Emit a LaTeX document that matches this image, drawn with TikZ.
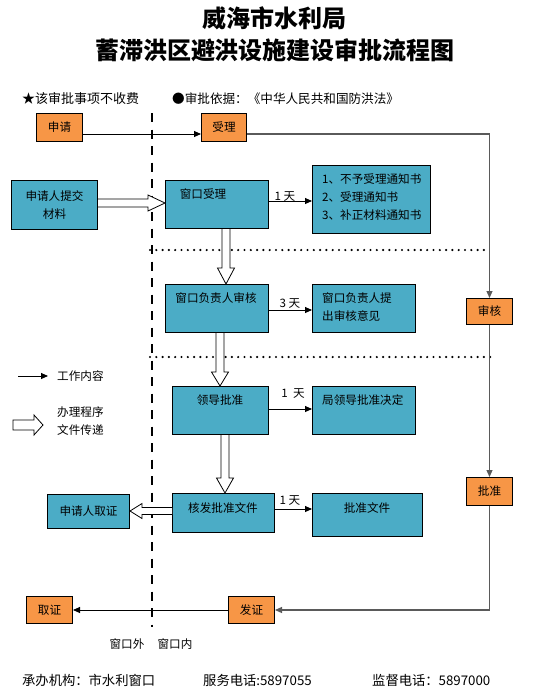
\documentclass[tikz,border=0pt]{standalone}
\usepackage{fontspec}
\setmainfont{Noto Sans CJK SC}
\usetikzlibrary{arrows.meta,calc}
\definecolor{myblue}{RGB}{75,172,198}
\definecolor{myorange}{RGB}{247,150,70}
\definecolor{linegray}{RGB}{90,90,90}
% hollow (document-transfer) arrows between named nodes
\newcommand\hdown[4]{\draw[hollow] let \p1=(#1.south), \p2=(#2.north) in (#3pt-4pt,\y1) -- (#3pt-4pt,\y2+#4pt) -- (#3pt-8.5pt,\y2+#4pt) -- (#3pt,\y2) -- (#3pt+8.5pt,\y2+#4pt) -- (#3pt+4pt,\y2+#4pt) -- (#3pt+4pt,\y1);}
\newcommand\hright[4]{\draw[hollow] let \p1=(#1.east), \p2=(#2.west) in (\x1,-#3pt+4pt) -- (\x2-#4pt,-#3pt+4pt) -- (\x2-#4pt,-#3pt+8pt) -- (\x2,-#3pt) -- (\x2-#4pt,-#3pt-8pt) -- (\x2-#4pt,-#3pt-4pt) -- (\x1,-#3pt-4pt);}
\newcommand\hleft[4]{\draw[hollow] let \p1=(#1.west), \p2=(#2.east) in (\x1,-#3pt+3.5pt) -- (\x2+#4pt,-#3pt+3.5pt) -- (\x2+#4pt,-#3pt+7.5pt) -- (\x2,-#3pt) -- (\x2+#4pt,-#3pt-7.5pt) -- (\x2+#4pt,-#3pt-3.5pt) -- (\x1,-#3pt-3.5pt);}
\begin{document}
\begin{tikzpicture}[x=1pt,y=-1pt,
  font=\fontsize{11.6}{18}\selectfont,
  obox/.style={draw, line width=1pt, fill=myorange, inner sep=0, anchor=north west},
  bbox/.style={draw, line width=1pt, fill=myblue, inner sep=0, anchor=north west},
  tarrow/.style={-{Triangle[length=7pt,width=6pt]}, line width=0.9pt},
  garrow/.style={draw=linegray, -{Triangle[length=7pt,width=6pt]}, line width=1.2pt},
  hollow/.style={draw, line width=0.8pt, fill=white, line join=miter},
  dotline/.style={line width=2.4pt, line cap=round, dash pattern=on 0pt off 6.3pt},
  txt/.style={inner sep=0},
  ltxt/.style={inner sep=0, anchor=west}]
\useasboundingbox (0,0) rectangle (534,694);
\fill[white] (0,0) rectangle (534,694);

% title
\node[txt, font=\fontsize{24}{28}\selectfont\bfseries] (t1) at (274,18) {威海市水利局};
\node[txt, font=\fontsize{24}{28}\selectfont\bfseries] (t2) at (275,50) {蓄滞洪区避洪设施建设审批流程图};

% header notes
\node[ltxt, font=\fontsize{13}{16}\selectfont] (n1) at (22,99) {★该审批事项不收费};
\node[ltxt, font=\fontsize{12.6}{16}\selectfont] (n2) at (172,99) {●审批依据：《中华人民共和国防洪法》};

% divider lines
\coordinate (dv1) at (152,113);
\coordinate (dv2) at (152,627);
\draw[line width=2pt, dash pattern=on 9pt off 7.5pt] (dv1) -- (dv2);
\coordinate (do1) at (150,250);
\coordinate (do2) at (490,250);
\coordinate (do3) at (150,357);
\coordinate (do4) at (493,357);
\draw[dotline] (do1) -- (do2);
\draw[dotline] (do3) -- (do4);

% orange boxes
\node[obox, minimum width=46, minimum height=28] (sq) at (36,113) {申请};
\node[obox, minimum width=45, minimum height=28] (sl) at (201,113) {受理};
\node[obox, minimum width=46, minimum height=26] (sh) at (466,298) {审核};
\node[obox, minimum width=46, minimum height=28] (pz) at (466,477) {批准};
\node[obox, minimum width=46, minimum height=27] (fz) at (228,596) {发证};
\node[obox, minimum width=46, minimum height=27] (qz) at (26,596) {取证};

% blue boxes
\node[bbox, minimum width=86, minimum height=49, align=center] (tj) at (11,180) {申请人提交\\材料};
\node[bbox, minimum width=103, minimum height=48] (ck) at (165,180) {};
\node[txt] (ckt) at (203,194) {窗口受理};
\node[bbox, minimum width=118, minimum height=68] (tz) at (312,165) {};
\node[ltxt] (tz1) at (322,179) {1、不予受理通知书};
\node[ltxt] (tz2) at (322,197) {2、受理通知书};
\node[ltxt] (tz3) at (322,215) {3、补正材料通知书};
\node[bbox, minimum width=103, minimum height=48] (fs) at (165,284) {};
\node[txt] (fst) at (216,298) {窗口负责人审核};
\node[bbox, minimum width=103, minimum height=48] (fy) at (312,284) {};
\node[ltxt] (fy1) at (322,298) {窗口负责人提};
\node[ltxt] (fy2) at (322,316) {出审核意见};
\node[bbox, minimum width=96, minimum height=48] (ld) at (172,386) {};
\node[txt] (ldt) at (220,400) {领导批准};
\node[bbox, minimum width=103, minimum height=48] (jd) at (312,386) {};
\node[ltxt] (jdt) at (322,400) {局领导批准决定};
\node[bbox, minimum width=102, minimum height=39] (hf) at (172,493) {};
\node[txt] (hft) at (223,508) {核发批准文件};
\node[bbox, minimum width=110, minimum height=43] (pw) at (312,493) {};
\node[txt] (pwt) at (367,508) {批准文件};
\node[bbox, minimum width=82, minimum height=34] (qr) at (47,494) {申请人取证};

% work-content arrows
\draw[tarrow] (sq.east |- 0,134) -- (sl.west |- 0,134);
\draw[garrow] (sl.east |- 0,134) -| (sh.north);
\draw[garrow] (sh.south) -- (pz.north);
\draw[garrow] (pz.south) |- (fz.east);
\draw[tarrow] (fz.west) -- (qz.east);
\draw[tarrow] (ck.east |- 0,201) -- (tz.west |- 0,201);
\draw[tarrow] (fs.east |- 0,310) -- (fy.west |- 0,310);
\draw[tarrow] (ld.east |- 0,409) -- (jd.west |- 0,409);
\draw[tarrow] (hf.east |- 0,509) -- (pw.west |- 0,509);
\node[txt] (d1) at (285,197) {1 天};
\node[txt] (d2) at (290,304) {3 天};
\node[txt] (d3) at (293,394) {1\ \ 天};
\node[txt] (d4) at (290,501) {1 天};

% document-transfer arrows
\hright{tj}{ck}{203}{17}
\hdown{ck}{fs}{226}{16}
\hdown{fs}{ld}{220}{14}
\hdown{ld}{hf}{225}{15}
\hleft{hf}{qr}{511}{12}

% legend
\coordinate (lg1) at (18,376);
\coordinate (lg2) at (48,376);
\draw[tarrow] (lg1) -- (lg2);
\node[ltxt] (lgt1) at (57,376) {工作内容};
\draw[hollow] (13,420) -- (34,420) -- (34,415) -- (43,425) -- (34,435) -- (34,430) -- (13,430) -- cycle;
\node[ltxt] (lgt2) at (57,412) {办理程序};
\node[ltxt] (lgt3) at (57,430) {文件传递};

% window labels
\node[txt] (wo) at (127,644) {窗口外};
\node[txt] (wi) at (175,644) {窗口内};

% footer
\node[ltxt, font=\fontsize{13.3}{16}\selectfont] (f1) at (22,680) {承办机构：市水利窗口};
\node[ltxt, font=\fontsize{13.3}{16}\selectfont] (f2) at (203,680) {服务电话:5897055};
\node[ltxt, font=\fontsize{13.3}{16}\selectfont] (f3) at (372,680) {监督电话：5897000};
\end{tikzpicture}
\end{document}
